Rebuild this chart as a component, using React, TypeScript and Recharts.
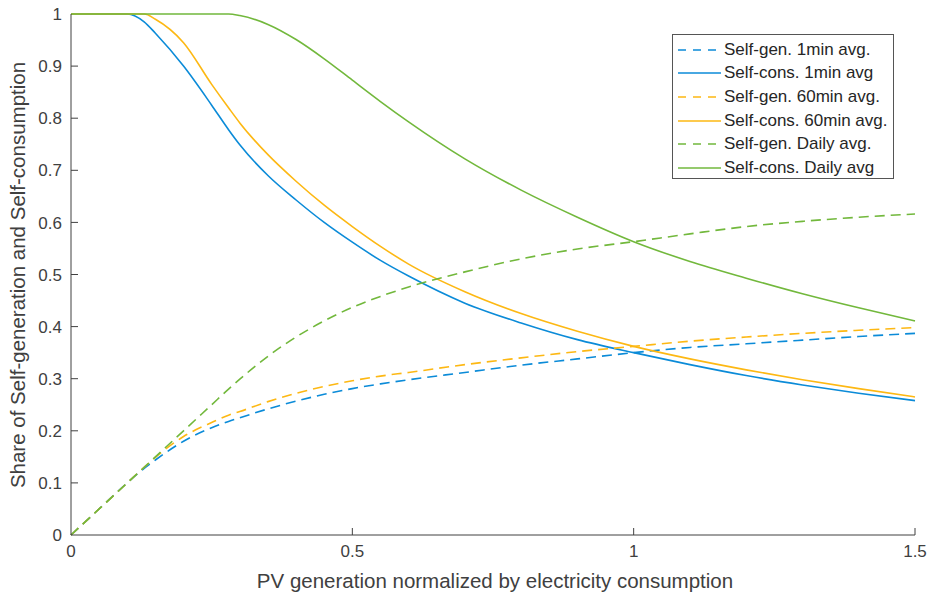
import React from "react";
import { LineChart, Line, XAxis, YAxis } from "recharts";

// PV generation / consumption ratio
const xValues = [0, 0.05, 0.1, 0.13, 0.15, 0.2, 0.25, 0.28, 0.3, 0.35, 0.4, 0.45, 0.5, 0.55, 0.6, 0.7, 0.8, 0.9, 1.0, 1.1, 1.2, 1.3, 1.4, 1.5];

const selfGen1min = [0, 0.05, 0.1, 0.128, 0.144, 0.18, 0.206, 0.218, 0.225, 0.242, 0.257, 0.27, 0.281, 0.29, 0.298, 0.312, 0.326, 0.338, 0.35, 0.36, 0.367, 0.374, 0.381, 0.387];
const selfCons1min = [1, 1, 1, 0.985, 0.963, 0.9, 0.825, 0.778, 0.749, 0.69, 0.643, 0.6, 0.562, 0.527, 0.497, 0.445, 0.407, 0.375, 0.35, 0.327, 0.306, 0.288, 0.272, 0.258];
const selfGen60min = [0, 0.05, 0.1, 0.13, 0.149, 0.189, 0.216, 0.23, 0.237, 0.256, 0.272, 0.285, 0.296, 0.305, 0.312, 0.327, 0.34, 0.352, 0.362, 0.372, 0.38, 0.387, 0.393, 0.398];
const selfCons60min = [1, 1, 1, 1, 0.99, 0.945, 0.865, 0.82, 0.791, 0.73, 0.679, 0.633, 0.592, 0.554, 0.52, 0.467, 0.425, 0.391, 0.362, 0.338, 0.317, 0.298, 0.281, 0.265];
const selfGenDaily = [0, 0.05, 0.1, 0.13, 0.15, 0.2, 0.25, 0.28, 0.299, 0.343, 0.38, 0.411, 0.437, 0.458, 0.476, 0.505, 0.53, 0.549, 0.563, 0.578, 0.592, 0.602, 0.61, 0.616];
const selfConsDaily = [1, 1, 1, 1, 1, 1, 1, 1, 0.997, 0.98, 0.951, 0.914, 0.873, 0.832, 0.793, 0.722, 0.662, 0.61, 0.563, 0.525, 0.493, 0.463, 0.436, 0.411];

const xTicks = [0, 0.5, 1, 1.5];
const yTicks = [0, 0.1, 0.2, 0.3, 0.4, 0.5, 0.6, 0.7, 0.8, 0.9, 1];

const BLUE = "#0b8bd8";
const ORANGE = "#fdb813";
const GREEN = "#72b83c";
const AXIS = "#404040";
const FONT = '"Liberation Sans", Arial, sans-serif';

const series = [
    { key: "sg1", name: "Self-gen. 1min avg.", values: selfGen1min, color: BLUE, dashed: true },
    { key: "sc1", name: "Self-cons. 1min avg", values: selfCons1min, color: BLUE, dashed: false },
    { key: "sg60", name: "Self-gen. 60min avg.", values: selfGen60min, color: ORANGE, dashed: true },
    { key: "sc60", name: "Self-cons. 60min avg.", values: selfCons60min, color: ORANGE, dashed: false },
    { key: "sgd", name: "Self-gen. Daily avg.", values: selfGenDaily, color: GREEN, dashed: true },
    { key: "scd", name: "Self-cons. Daily avg", values: selfConsDaily, color: GREEN, dashed: false },
];

const data = xValues.map((x, i) => {
    const row: any = { x };
    series.forEach((s) => (row[s.key] = s.values[i]));
    return row;
});

// ticks point inward, like the original
const YTick = ({ x, y, payload }: any) => {
    const ax = x + 9;
    return (
        <g>
            {payload.value !== 0 && payload.value !== 1 && (
                <line x1={ax} x2={ax + 7} y1={y} y2={y} stroke={AXIS} />
            )}
            <text x={x} y={y} dy="0.36em" textAnchor="end" fill={AXIS} fontSize={17} fontFamily={FONT}>
                {payload.value}
            </text>
        </g>
    );
};

const XTick = ({ x, y, payload }: any) => {
    const ay = y - 10;
    return (
        <g>
            {payload.value !== 0 && (
                <line x1={x} x2={x} y1={ay} y2={ay - 7} stroke={AXIS} />
            )}
            <text x={x} y={y} dy="0.72em" textAnchor="middle" fill={AXIS} fontSize={17} fontFamily={FONT}>
                {payload.value}
            </text>
        </g>
    );
};

export default function App() {
    return (
        <div style={{ position: "absolute", left: 0, top: 0, width: 930, height: 598, background: "#fff", fontFamily: FONT }}>
            <LineChart width={930} height={598} data={data} margin={{ top: 14, right: 15, bottom: 0, left: 0 }}>
                <XAxis
                    dataKey="x"
                    type="number"
                    domain={[0, 1.5]}
                    ticks={xTicks}
                    height={63}
                    tickSize={0}
                    tickMargin={10}
                    tick={<XTick />}
                    axisLine={{ stroke: AXIS }}
                    interval={0}
                />
                <YAxis
                    type="number"
                    domain={[0, 1]}
                    ticks={yTicks}
                    width={71}
                    tickSize={0}
                    tickMargin={9}
                    tick={<YTick />}
                    axisLine={{ stroke: AXIS }}
                    interval={0}
                />
                {series.map((s) => (
                    <Line
                        key={s.key}
                        dataKey={s.key}
                        name={s.name}
                        type="monotone"
                        stroke={s.color}
                        strokeWidth={1.6}
                        strokeDasharray={s.dashed ? "10 6" : undefined}
                        dot={false}
                        isAnimationActive={false}
                    />
                ))}
            </LineChart>

            <div
                style={{
                    position: "absolute",
                    left: 18,
                    top: 275,
                    transform: "translate(-50%, -50%) rotate(-90deg)",
                    whiteSpace: "nowrap",
                    fontSize: 20.5,
                    color: AXIS,
                }}
            >
                Share of Self-generation and Self-consumption
            </div>
            <div
                style={{
                    position: "absolute",
                    left: 495,
                    top: 581,
                    transform: "translate(-50%, -50%)",
                    whiteSpace: "nowrap",
                    fontSize: 20.5,
                    color: AXIS,
                }}
            >
                PV generation normalized by electricity consumption
            </div>

            <div
                style={{
                    position: "absolute",
                    left: 672,
                    top: 34,
                    width: 222,
                    height: 145,
                    border: "1px solid #555",
                    background: "#fff",
                    boxSizing: "border-box",
                    paddingTop: 3,
                }}
            >
                {series.map((s) => (
                    <div key={s.key} style={{ display: "flex", alignItems: "center", height: 23.6 }}>
                        <svg width={50} height={10} style={{ flexShrink: 0 }}>
                            <line
                                x1={5}
                                x2={48}
                                y1={5}
                                y2={5}
                                stroke={s.color}
                                strokeWidth={1.3}
                                strokeDasharray={s.dashed ? "8 7" : undefined}
                            />
                        </svg>
                        <span style={{ fontSize: 17, color: "#262626", whiteSpace: "nowrap", marginLeft: 1 }}>{s.name}</span>
                    </div>
                ))}
            </div>
        </div>
    );
}
